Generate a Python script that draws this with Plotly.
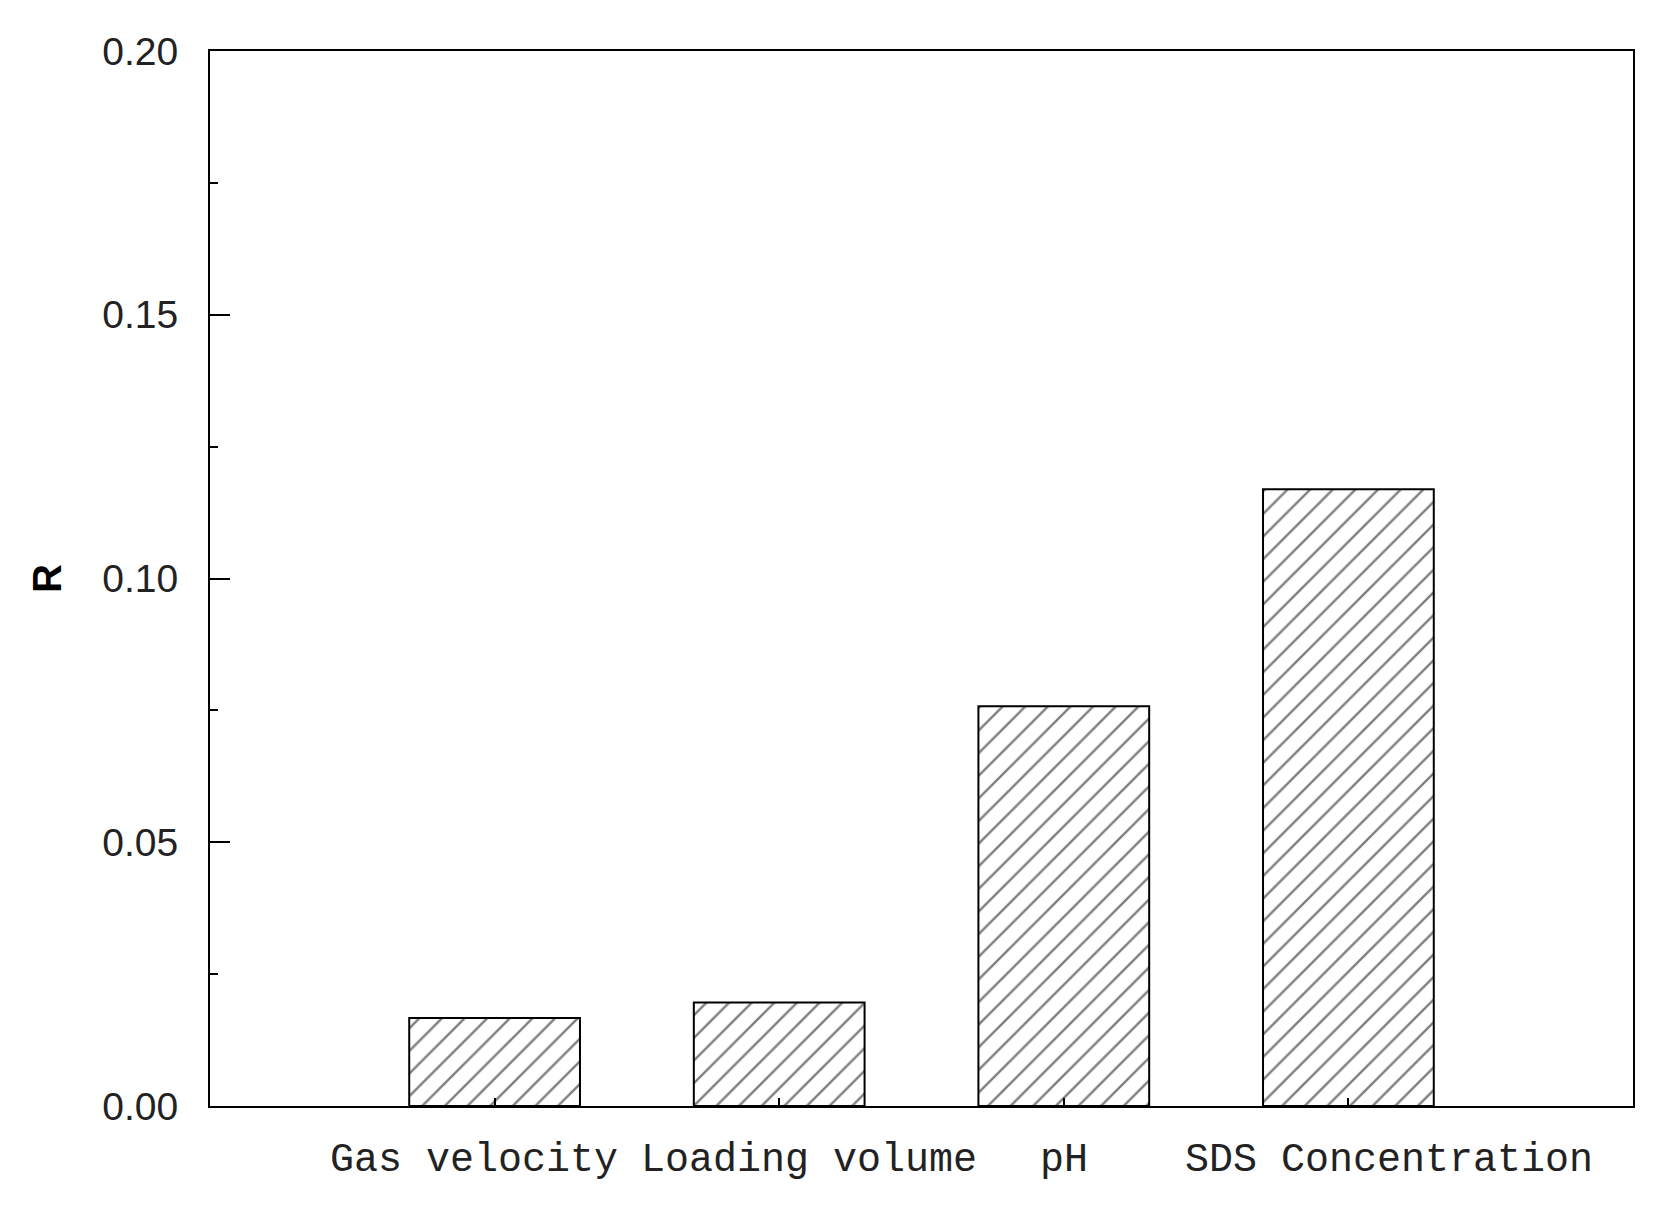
import plotly.graph_objects as go

#------------------------------------------------------------
#                          DATA
#------------------------------------------------------------

factors = ['Gas velocity', 'Loading volume', 'pH', 'SDS Concentration']
r_values = [0.0167, 0.0196, 0.0758, 0.1169]

y_ticks = [0.00, 0.05, 0.10, 0.15, 0.20]
y_tick_labels = ['0.00', '0.05', '0.10', '0.15', '0.20']

# horizontal nudges of the category labels (px), as in the original figure
label_shift = [-21, 30, 0, 41]

#------------------------------------------------------------
#                          PLOT
#------------------------------------------------------------

fig = go.Figure()

fig.add_trace(go.Bar(
    x=list(range(len(factors))),
    y=r_values,
    width=0.6,
    marker=dict(
        color='white',
        line=dict(color='black', width=2),
        pattern=dict(shape='/', fgcolor='black', bgcolor='white',
                     size=16, solidity=0.15, fillmode='overlay'),
    ),
    showlegend=False,
))

# category labels as annotations so they can be nudged apart
for i, name in enumerate(factors):
    fig.add_annotation(
        x=i, y=0, xref='x', yref='paper',
        text=name, showarrow=False,
        xanchor='center', yanchor='top',
        xshift=label_shift[i], yshift=-30,
        font=dict(family='Liberation Mono', size=40, color='#222'),
    )

fig.update_xaxes(
    range=[-1, 4],
    tickmode='array',
    tickvals=list(range(len(factors))),
    showticklabels=False,
    automargin=False,
    ticks='inside', ticklen=8, tickwidth=1.5, tickcolor='black',
    showline=True, linecolor='black', linewidth=2, mirror=True,
    showgrid=False, zeroline=False,
)

fig.update_yaxes(
    range=[0, 0.2],
    tickmode='array',
    tickvals=y_ticks,
    ticktext=y_tick_labels,
    automargin=False,
    ticks='inside', ticklen=20, tickwidth=2, tickcolor='black',
    minor=dict(dtick=0.025, ticks='inside', ticklen=8, tickwidth=1.5, tickcolor='black'),
    ticklabelstandoff=22,
    tickfont=dict(family='Liberation Sans', size=39, color='#222'),
    title=dict(text='<b>R</b>', font=dict(family='Liberation Sans', size=40, color='black'),
               standoff=28),
    showline=True, linecolor='black', linewidth=2, mirror=True,
    showgrid=False, zeroline=False,
)

fig.update_layout(
    width=1668, height=1212,
    margin=dict(l=202, r=43, t=43, b=114),
    plot_bgcolor='white', paper_bgcolor='white',
)

fig.write_html("out.html")
